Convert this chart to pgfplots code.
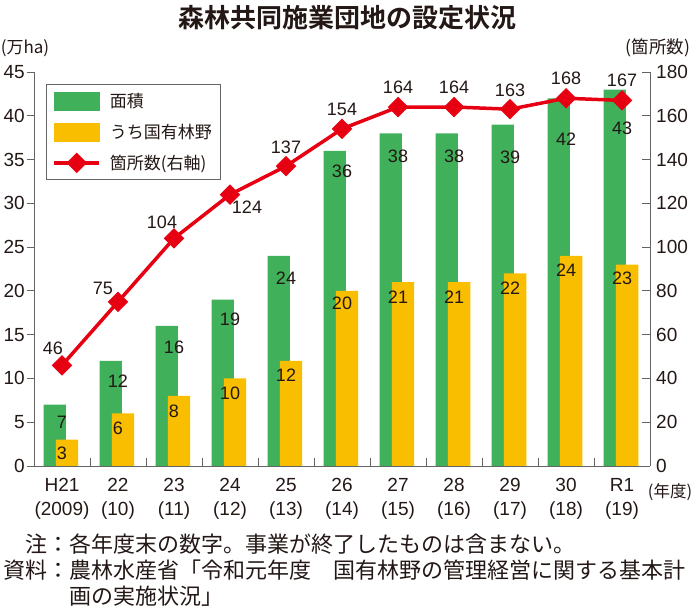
\documentclass[border=0pt]{standalone}
\usepackage{fontspec}
\setmainfont{Liberation Sans}
\newfontfamily\jp{Noto Sans CJK JP}
\newfontfamily\jpb{Noto Sans CJK JP Bold}
\usepackage{pgfplots}
\usepackage{pgfplotstable}
\pgfplotsset{compat=1.18, /pgf/number format/assume math mode=true}
\definecolor{cgreen}{RGB}{64,176,90}
\definecolor{cyellow}{RGB}{250,190,0}
\definecolor{cred}{RGB}{230,0,18}
\definecolor{caxis}{RGB}{100,100,100}
\definecolor{ctext}{RGB}{35,24,21}

\pgfplotstableread{
x area kuni goff koff
0 7 3 -18 -14
1 12 6 -20 -15
2 16 8 -21 -15
3 19 10 -20 -15
4 24 12 -22 -14
5 36 20 -21 -12
6 38 21 -23 -15
7 38 21 -23 -15
8 39 22 -33 -15
9 42 24 -41 -14
10 43 23 -39 -14
}\bars

\pgfplotstableread{
x n dx dy
0 46 -9 17
1 75 -15 13
2 104 -12 16
3 124 17 -13
4 137 0 19
5 154 0 20
6 164 0 20
7 164 0 20
8 163 0 19
9 168 0 20
10 167 0 20
}\sites

\newcommand{\tickfont}{\fontsize{19bp}{24bp}\selectfont}
\newcommand{\labfont}{\fontsize{18bp}{22bp}\selectfont}

\begin{document}
\begin{tikzpicture}[x=1bp,y=1bp]
\useasboundingbox (0,0) rectangle (694,616);
\begin{axis}[
  at={(34bp,150bp)}, anchor=south west,
  scale only axis, width=616bp, height=394bp,
  xmin=-0.5, xmax=10.5, ymin=0, ymax=45,
  axis x line*=bottom, axis y line*=left,
  axis line style={caxis, line width=0.8bp, -},
  tick align=outside,
  major tick length=7bp,
  ytick={0,5,...,45},
  y tick style={caxis, line width=0.8bp},
  xtick={0,...,10},
  x tick style={draw=none},
  xticklabels={H21\\(2009),22\\(10),23\\(11),24\\(12),25\\(13),26\\(14),27\\(15),28\\(16),29\\(17),30\\(18),R1\\(19)},
  xticklabel style={align=center, anchor=north, inner sep=0pt, yshift=-5bp, font=\tickfont, text=ctext},
  yticklabel style={anchor=east, inner sep=0pt, xshift=-2bp, font=\tickfont, text=ctext},
  clip=false,
]
\addplot[ybar, bar width=0.4, bar shift=-0.13, fill=cgreen, draw=none] table[x=x, y=area] {\bars};
\addplot[ybar, bar width=0.4, bar shift=0.09, fill=cyellow, draw=none] table[x=x, y=kuni] {\bars};
\addplot[ybar, bar width=0.4, bar shift=-0.13, fill=none, draw=none,
  nodes near coords,
  visualization depends on={\thisrow{goff} \as \goff},
  nodes near coords style={anchor=center, yshift=\goff bp, font=\labfont, text=ctext}]
  table[x=x, y=area] {\bars};
\addplot[ybar, bar width=0.4, bar shift=0.09, fill=none, draw=none,
  nodes near coords,
  visualization depends on={\thisrow{koff} \as \koff},
  nodes near coords style={anchor=center, yshift=\koff bp, font=\labfont, text=ctext}]
  table[x=x, y=kuni] {\bars};
\end{axis}
\begin{axis}[
  at={(34bp,150bp)}, anchor=south west,
  scale only axis, width=616bp, height=394bp,
  xmin=-0.5, xmax=10.5, ymin=0, ymax=180,
  axis x line*=bottom, axis y line*=right,
  axis line style={caxis, line width=0.8bp, -},
  tick align=inside,
  tick style={caxis, line width=0.8bp},
  major tick length=8bp,
  xtick={0.5,1.5,...,9.5}, xticklabels={},
  ytick={0,20,...,180},
  yticklabel style={anchor=west, inner sep=0pt, xshift=6bp, font=\tickfont, text=ctext},
  legend style={at={(0.0195,0.9695)}, anchor=north west, draw=caxis, line width=0.8bp,
    inner xsep=6bp, inner ysep=7bp, row sep=11bp,
    font=\jp\fontsize{17bp}{20bp}\selectfont, text=ctext,
    /tikz/every odd column/.append style={column sep=7bp}},
  legend cell align=left,
  clip=false,
]
\addlegendimage{legend image code/.code={\fill[cgreen] (0bp,-9bp) rectangle (45bp,9bp);}}
\addlegendentry{面積}
\addlegendimage{legend image code/.code={\fill[cyellow] (0bp,-9bp) rectangle (45bp,9bp);}}
\addlegendentry{うち国有林野}
\addlegendimage{legend image code/.code={\draw[cred, line width=3.5bp, mark=square*, mark size=5.5bp, mark options={rotate=45}, mark repeat=2, mark phase=2] plot coordinates {(0bp,0bp) (22.5bp,0bp) (45bp,0bp)};}}
\addlegendentry{箇所数(右軸)}
\addplot[forget plot, cred, line width=3.5bp, mark=square*, mark size=5.5bp, mark options={rotate=45, solid},
  nodes near coords, point meta=explicit,
  visualization depends on={\thisrow{dx} \as \dx},
  visualization depends on={\thisrow{dy} \as \dy},
  nodes near coords style={anchor=center, xshift=\dx bp, yshift=\dy bp, font=\labfont, text=ctext}]
  table[x=x, y=n, meta=n] {\sites};
\end{axis}
\node[text=ctext, inner sep=0pt, font=\jpb\fontsize{26bp}{30bp}\selectfont] at (347,598) {森林共同施業団地の設定状況};
\node[text=ctext, inner sep=0pt, font=\jp\fontsize{17bp}{20bp}\selectfont] at (25,568) {(万ha)};
\node[text=ctext, inner sep=0pt, font=\jp\fontsize{17.5bp}{20bp}\selectfont] at (658,568) {(箇所数)};
\node[text=ctext, inner sep=0pt, font=\jp\fontsize{16.5bp}{20bp}\selectfont] at (670,124) {(年度)};
\node[text=ctext, anchor=west, inner sep=0pt, font=\jp\fontsize{22bp}{26bp}\selectfont] at (3,72) {　注：各年度末の数字。事業が終了したものは含まない。};
\node[text=ctext, anchor=west, inner sep=0pt, font=\jp\fontsize{22bp}{26bp}\selectfont] at (3,46) {資料：農林水産省「令和元年度　国有林野の管理経営に関する基本計};
\node[text=ctext, anchor=west, inner sep=0pt, font=\jp\fontsize{22bp}{26bp}\selectfont] at (69,20) {画の実施状況」};
\end{tikzpicture}
\end{document}
